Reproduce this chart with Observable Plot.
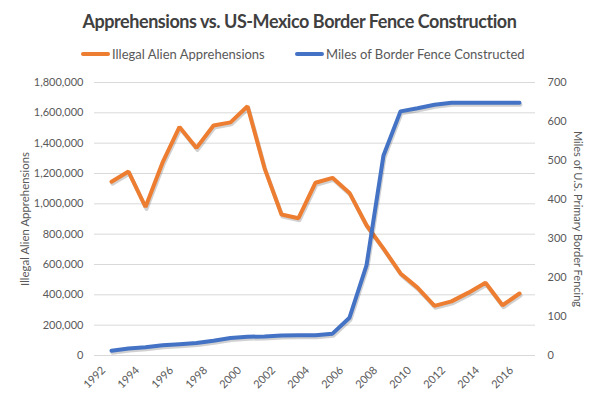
<!DOCTYPE html>
<html>
<head>
<meta charset="utf-8">
<script src="https://cdn.jsdelivr.net/npm/d3@7"></script>
<script src="https://cdn.jsdelivr.net/npm/@observablehq/plot@0.6"></script>
<style>
  body { margin: 0; background: #fff; font-family: Lato, sans-serif; }
  #wrap { width: 599px; height: 399px; position: relative; overflow: hidden; }
  #title { position: absolute; top: 10px; left: 0; width: 599px; text-align: center;
    font-weight: bold; font-size: 18px; color: #404040; letter-spacing: -0.45px; }
  #legend { position: absolute; top: 45px; left: 0; width: 599px; height: 18px; font-size: 13px; color: #595959; }
  .item { position: absolute; top: 0; display: flex; align-items: center; height: 18px; }
  .sw { width: 29px; height: 4px; border-radius: 2px; margin-right: 2px; }
  #chart { position: absolute; top: 70px; left: 0; }
</style>
</head>
<body>
<div id="wrap">
  <div id="title">Apprehensions vs. US-Mexico Border Fence Construction</div>
  <div id="legend">
    <div class="item" style="left:81px"><div class="sw" style="background:#ED7D31"></div><span>Illegal Alien Apprehensions</span></div>
    <div class="item" style="left:295px"><div class="sw" style="background:#4472C4"></div><span>Miles of Border Fence Constructed</span></div>
  </div>
  <div id="chart"></div>
</div>
<script>
const years = [1992, 1993, 1994, 1995, 1996, 1997, 1998, 1999, 2000, 2001, 2002, 2003, 2004,
  2005, 2006, 2007, 2008, 2009, 2010, 2011, 2012, 2013, 2014, 2015, 2016];
const apprehensions = [1145574, 1212886, 979101, 1271390, 1507020, 1368707, 1516680, 1537000,
  1643679, 1235718, 929809, 905065, 1139282, 1171396, 1071972, 858638, 705005, 540865, 447731,
  327577, 356873, 414397, 479371, 331333, 408870];
const fenceMiles = [12, 18, 21, 26, 29, 32, 38, 45, 48, 49, 51, 52, 52, 56, 97, 231, 513, 626,
  634, 643, 648, 648, 648, 648, 648];
const leftTicks = [0, 200000, 400000, 600000, 800000, 1000000, 1200000, 1400000, 1600000, 1800000];
const rightTicks = [0, 100, 200, 300, 400, 500, 600, 700];
const yearTicks = [1992, 1994, 1996, 1998, 2000, 2002, 2004, 2006, 2008, 2010, 2012, 2014, 2016];

const k = 1800000 / 700; // right axis mapped to left scale
const appr = years.map((y, i) => ({year: y, v: apprehensions[i]}));
const fence = years.map((y, i) => ({year: y, v: fenceMiles[i] * k}));

const orange = "#ED7D31", blue = "#4472C4";

const chart = Plot.plot({
  width: 599,
  height: 329,
  marginTop: 12,
  marginBottom: 44,
  marginLeft: 94,
  marginRight: 64,
  style: {fontFamily: "Lato, sans-serif", fontSize: "11px", color: "#595959", background: "white"},
  x: {type: "point", domain: years, padding: 0.5},
  y: {domain: [0, 1800000]},
  marks: [
    Plot.gridY(leftTicks, {stroke: "#d9d9d9", strokeOpacity: 1}),
    Plot.axisY(leftTicks, {anchor: "left", tickSize: 0, tickPadding: 11, tickFormat: d3.format(","), label: null}),
    Plot.axisY(rightTicks.map(d => d * k), {anchor: "right", tickSize: 0, tickPadding: 12, tickFormat: d => String(Math.round(d / k)), label: null}),
    Plot.axisX(yearTicks, {anchor: "bottom", tickSize: 0, tickPadding: 6, tickRotate: -45, label: null, dx: -8, dy: 7, tickFormat: d => String(d)}),
    Plot.text(["Illegal Alien Apprehensions"], {frameAnchor: "left", dx: -69, rotate: -90, textAnchor: "middle", fontSize: 11.4}),
    Plot.text(["Miles of U.S. Primary Border Fencing"], {frameAnchor: "right", dx: 42, rotate: 90, textAnchor: "middle", fontSize: 11}),
    Plot.line(appr, {x: "year", y: "v", stroke: "#000", strokeOpacity: 0.18, strokeWidth: 4, dx: 1, dy: 2}),
    Plot.line(appr, {x: "year", y: "v", stroke: orange, strokeWidth: 4, strokeLinejoin: "miter"}),
    Plot.line(fence, {x: "year", y: "v", stroke: "#000", strokeOpacity: 0.18, strokeWidth: 4, dx: 1, dy: 2}),
    Plot.line(fence, {x: "year", y: "v", stroke: blue, strokeWidth: 4, strokeLinejoin: "round"})
  ]
});
document.getElementById("chart").appendChild(chart);
</script>
</body>
</html>
